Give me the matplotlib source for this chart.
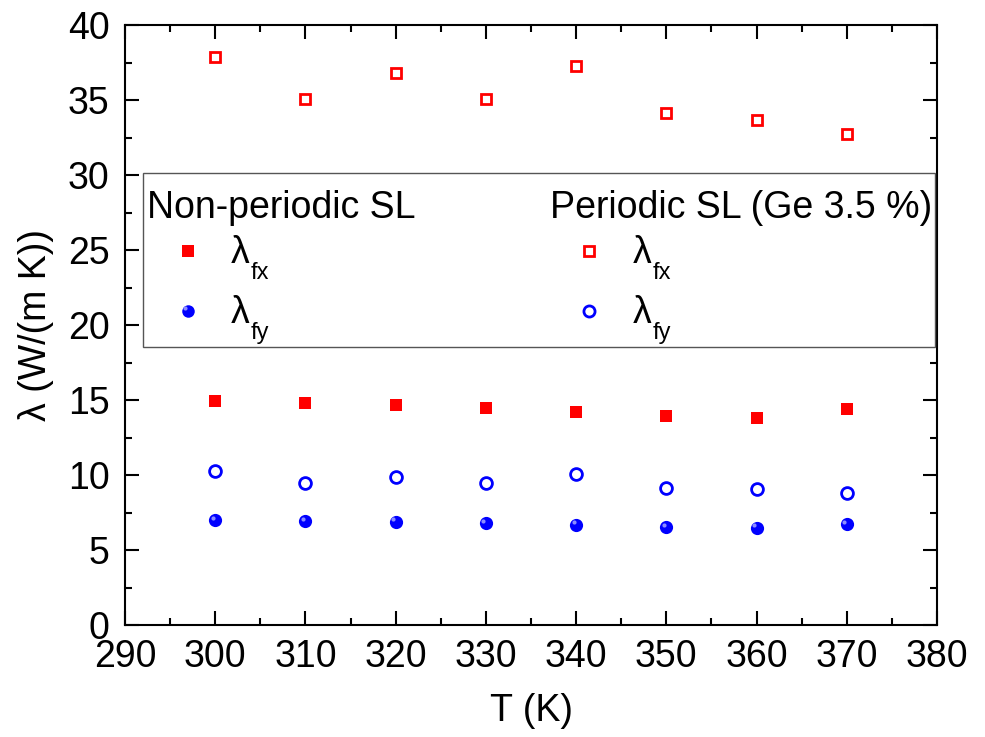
import matplotlib
matplotlib.use("Agg")
import matplotlib.pyplot as plt
from matplotlib.patches import Rectangle
from matplotlib.lines import Line2D
import matplotlib.transforms as mtransforms

plt.rcParams['font.family'] = ['Liberation Sans', 'DejaVu Sans']

T = [300, 310, 320, 330, 340, 350, 360, 370]
nonper_fx = [14.93, 14.8, 14.67, 14.47, 14.2, 13.93, 13.8, 14.4]
nonper_fy = [7.0, 6.93, 6.87, 6.8, 6.67, 6.53, 6.47, 6.73]
per_fx = [37.87, 35.07, 36.8, 35.07, 37.27, 34.13, 33.67, 32.73]
per_fy = [10.27, 9.47, 9.87, 9.47, 10.07, 9.13, 9.07, 8.8]

xticks = [290, 300, 310, 320, 330, 340, 350, 360, 370, 380]
yticks = [0, 5, 10, 15, 20, 25, 30, 35, 40]

fig = plt.figure(figsize=(9.85, 7.37), dpi=100)
ax = fig.add_axes([125/985, 1-625/737, 812/985, 600/737])

FS = 27
RED = '#ff0000'
BLUE = '#0000ff'

ax.plot(T, per_fx, ls='none', marker='s', ms=7, mfc='white', mec=RED, mew=2)
ax.plot(T, nonper_fx, ls='none', marker='s', ms=8.5, mfc=RED, mec=RED, mew=0)
ax.plot(T, per_fy, ls='none', marker='o', ms=8.5, mfc='white', mec=BLUE, mew=2)
ax.plot(T, nonper_fy, ls='none', marker='o', ms=9.5, mfc=BLUE, mec=BLUE, mew=0)
hl = mtransforms.offset_copy(ax.transData, fig=fig, x=-2.5, y=2.5, units='dots')
ax.plot(T, nonper_fy, ls='none', marker='o', ms=3, mfc='#8c8cff', mec='none', transform=hl)

ax.set_xlim(290, 380)
ax.set_ylim(0, 40)
ax.set_xticks(xticks)
ax.set_yticks(yticks)
ax.set_xticks([295 + 10*i for i in range(9)], minor=True)
ax.set_yticks([2.5 + 5*i for i in range(8)], minor=True)
ax.tick_params(which='both', direction='in', top=True, right=True, width=1.5, labelsize=FS)
ax.tick_params(which='major', length=10)
ax.tick_params(which='minor', length=5)
ax.tick_params(axis='x', pad=10)
ax.tick_params(axis='y', pad=11)
for s in ax.spines.values():
    s.set_linewidth(1.5)

ax.set_xlabel('T (K)', fontsize=FS, labelpad=13)
ax.set_ylabel('λ (W/(m K))', fontsize=FS, labelpad=10)

# legend frame
ax.add_patch(Rectangle((0.0222, 0.4633), 0.9753, 0.29, transform=ax.transAxes,
                       fill=True, facecolor='white', edgecolor='#555555', lw=1.0, zorder=5))
ax.text(0.0271, 0.678, 'Non-periodic SL', transform=ax.transAxes, fontsize=FS,
        va='baseline', ha='left', zorder=6)
ax.text(0.5234, 0.678, 'Periodic SL (Ge 3.5 %)', transform=ax.transAxes, fontsize=FS,
        va='baseline', ha='left', zorder=6)

leg_items = [
    (0.0772, 0.6238, dict(marker='s', ms=8, mfc=RED, mec=RED, mew=0)),
    (0.0772, 0.5238, dict(marker='o', ms=9, mfc=BLUE, mec=BLUE, mew=0)),
    (0.571, 0.6238, dict(marker='s', ms=6.5, mfc='white', mec=RED, mew=2)),
    (0.571, 0.5238, dict(marker='o', ms=8, mfc='white', mec=BLUE, mew=2)),
]
for x, y, kw in leg_items:
    ax.add_line(Line2D([x], [y], ls='none', transform=ax.transAxes, zorder=6, **kw))
hl2 = mtransforms.offset_copy(ax.transAxes, fig=fig, x=-2.5, y=2.5, units='dots')
ax.add_line(Line2D([0.0772], [0.5238], ls='none', marker='o', ms=3, mfc='#8c8cff', mec='none',
                   transform=hl2, zorder=7))

for xl in (0.130, 0.625):
    for yb, sub in ((0.603, 'fx'), (0.503, 'fy')):
        ax.text(xl, yb, 'λ', transform=ax.transAxes, fontsize=FS,
                va='baseline', ha='left', zorder=6)
        ax.text(xl + 0.0245, yb - 0.027, sub, transform=ax.transAxes, fontsize=17,
                va='baseline', ha='left', zorder=6)

fig.savefig('out.png', dpi=100)
